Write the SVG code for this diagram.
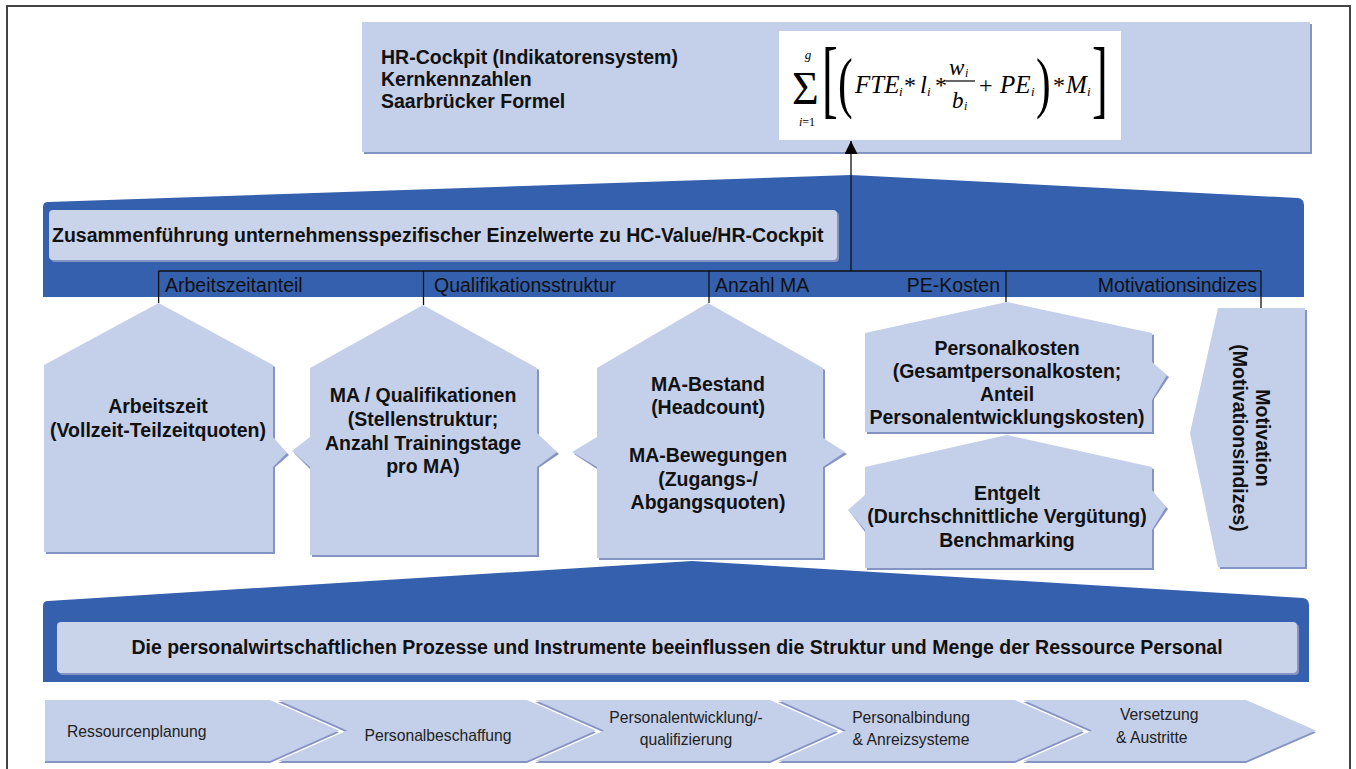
<svg xmlns="http://www.w3.org/2000/svg" width="1356" height="769" viewBox="0 0 1356 769">
<defs>
<style>
.lb{fill:#c4cfe9}
.sh{fill:#8593c2}
.band{fill:#3560ae}
.inner{fill:#c9d3ea}
.t{font-family:"Liberation Sans",Arial,sans-serif;font-size:19.5px;fill:#111}
.b{font-weight:bold}
.c{text-anchor:middle}
.e{text-anchor:end}
.ch{font-family:"Liberation Sans",Arial,sans-serif;font-size:15.7px;fill:#222}
.m{font-family:"Liberation Serif","Times New Roman",serif;fill:#000}
.mi{font-style:italic}
.conn{stroke:#111;stroke-width:1.3;fill:none}
</style>
<marker id="ah" markerUnits="userSpaceOnUse" markerWidth="14" markerHeight="14" refX="13" refY="6.5" orient="auto">
<path d="M0,0 L13,6.5 L0,13 z" fill="#000"/>
</marker>
</defs>
<rect x="0" y="0" width="1356" height="769" fill="#fff"/>
<path d="M7,769 V6 H1350 V769" fill="none" stroke="#444" stroke-width="2"/>

<g id="hr-cockpit">
<rect x="364" y="24" width="948" height="130" class="sh"/>
<rect x="362" y="22" width="948" height="130" class="lb"/>
<text class="t b" x="381" y="64">HR-Cockpit (Indikatorensystem)</text>
<text class="t b" x="381" y="86">Kernkennzahlen</text>
<text class="t b" x="381" y="108">Saarbrücker Formel</text>
<rect x="779" y="31" width="342" height="109" fill="#fff"/>
<text class="m" x="792" y="104" font-size="46">Σ</text>
<text class="m mi c" x="808" y="59" font-size="13">g</text>
<text class="m c" x="807" y="126" font-size="12"><tspan font-style="italic">i</tspan>=1</text>
<text class="m" font-size="86" transform="translate(822,107) scale(0.55,1)">[</text>
<text class="m" font-size="68" transform="translate(838,105) scale(0.65,1)">(</text>
<text class="m mi" x="855" y="93" font-size="25">FTE</text>
<text class="m mi" x="899" y="96" font-size="13">i</text>
<text class="m" x="904" y="93" font-size="24">*</text>
<text class="m mi" x="920" y="93" font-size="25">l</text>
<text class="m mi" x="927" y="96" font-size="13">i</text>
<text class="m" x="935" y="93" font-size="24">*</text>
<text class="m mi" x="949" y="75" font-size="23">w</text>
<text class="m mi" x="965" y="77" font-size="12">i</text>
<line x1="946" y1="81" x2="975" y2="81" stroke="#000" stroke-width="1.2"/>
<text class="m mi" x="952" y="108" font-size="23">b</text>
<text class="m mi" x="964" y="110" font-size="12">i</text>
<text class="m" x="979" y="93" font-size="24">+</text>
<text class="m mi" x="1000" y="93" font-size="25">PE</text>
<text class="m mi" x="1031" y="96" font-size="13">i</text>
<text class="m" font-size="68" transform="translate(1036,105) scale(0.65,1)">)</text>
<text class="m" x="1053" y="93" font-size="24">*</text>
<text class="m mi" x="1066" y="93" font-size="25">M</text>
<text class="m mi" x="1087" y="96" font-size="13">i</text>
<text class="m" font-size="86" transform="translate(1092,107) scale(0.55,1)">]</text>
</g>

<g id="band-top">
<path class="band" d="M43,297 L43,207 Q43,202 48,202 L851,175 L1298,198 Q1304,199 1304,205 L1304,297 Z"/>
<rect x="51" y="212" width="788" height="50" rx="4" class="sh"/>
<rect x="49" y="210" width="788" height="50" rx="4" class="inner"/>
<text class="t b" x="52" y="242">Zusammenführung unternehmensspezifischer Einzelwerte zu HC-Value/HR-Cockpit</text>
</g>

<g id="labels">
<text class="t" x="165" y="292">Arbeitszeitanteil</text>
<text class="t" x="434" y="292">Qualifikationsstruktur</text>
<text class="t" x="715" y="292">Anzahl MA</text>
<text class="t e" x="1000" y="292">PE-Kosten</text>
<text class="t e" x="1257" y="292">Motivationsindizes</text>
</g>

<g id="arbeitszeit">
<polygon class="sh" points="46,367 160.6,305 275,367 275,554 46,554"/>
<polygon class="lb" points="44,365 158.6,303 273,365 273,552 44,552"/>
<polygon class="sh" points="273,439 289,455 273,469"/>
<polygon class="lb" points="273,437 287,453 273,467"/>
<text class="t b c" x="158" y="413">Arbeitszeit</text>
<text class="t b c" x="158" y="437">(Vollzeit-Teilzeitquoten)</text>
</g>

<g id="qualifikationen">
<polygon class="sh" points="312,370 425,307 539,370 539,557 312,557"/>
<polygon class="lb" points="310,368 423,305 537,368 537,555 310,555"/>
<polygon class="sh" points="310,439 294,453 310,469"/>
<polygon class="lb" points="310,437 292,451 310,467"/>
<polygon class="sh" points="537,435 559,454 537,469"/>
<polygon class="lb" points="537,433 557,452 537,467"/>
<text class="t b c" x="423" y="402">MA / Qualifikationen</text>
<text class="t b c" x="423" y="426">(Stellenstruktur;</text>
<text class="t b c" x="423" y="450">Anzahl Trainingstage</text>
<text class="t b c" x="423" y="473">pro MA)</text>
</g>

<g id="ma-bestand">
<polygon class="sh" points="599,370 710,305 825,370 825,560 599,560"/>
<polygon class="lb" points="597,368 708,303 823,368 823,558 597,558"/>
<polygon class="sh" points="597,439 574,454 597,469"/>
<polygon class="lb" points="597,437 572,452 597,467"/>
<polygon class="sh" points="823,440 847,454 823,469"/>
<polygon class="lb" points="823,438 845,452 823,467"/>
<text class="t b c" x="708" y="391">MA-Bestand</text>
<text class="t b c" x="708" y="414">(Headcount)</text>
<text class="t b c" x="708" y="462">MA-Bewegungen</text>
<text class="t b c" x="708" y="486">(Zugangs-/</text>
<text class="t b c" x="708" y="509">Abgangsquoten)</text>
</g>

<g id="personalkosten">
<polygon class="sh" points="867,335 1009,304 1154,335 1154,434 867,434"/>
<polygon class="lb" points="865,333 1007,302 1152,333 1152,432 865,432"/>
<polygon class="sh" points="1152,364 1169,377 1152,402"/>
<polygon class="lb" points="1152,362 1167,375 1152,400"/>
<text class="t b c" x="1007" y="355">Personalkosten</text>
<text class="t b c" x="1007" y="378">(Gesamtpersonalkosten;</text>
<text class="t b c" x="1007" y="401">Anteil</text>
<text class="t b c" x="1007" y="424">Personalentwicklungskosten)</text>
</g>

<g id="entgelt">
<polygon class="sh" points="867,469 1009,437 1154,469 1154,570 867,570"/>
<polygon class="lb" points="865,467 1007,435 1152,467 1152,568 865,568"/>
<polygon class="sh" points="865,497 850,512 865,532"/>
<polygon class="lb" points="865,495 848,510 865,530"/>
<polygon class="sh" points="1152,492 1168,509 1152,532"/>
<polygon class="lb" points="1152,490 1166,507 1152,530"/>
<text class="t b c" x="1007" y="500">Entgelt</text>
<text class="t b c" x="1007" y="523">(Durchschnittliche Vergütung)</text>
<text class="t b c" x="1007" y="547">Benchmarking</text>
</g>

<g id="motivation">
<polygon class="sh" points="1220,310 1307,310 1307,569 1220,569 1192,435"/>
<polygon class="lb" points="1218,308 1305,308 1305,567 1218,567 1190,433"/>
<text class="t b c" transform="translate(1256,438) rotate(90)">Motivation</text>
<text class="t b c" transform="translate(1233,438) rotate(90)">(Motivationsindizes)</text>
</g>

<g id="band-bottom">
<path class="band" d="M43,682 L43,606 Q43,601 48,601 L692,561 L1303,598 Q1309,599 1309,605 L1309,682 Z"/>
<rect x="59" y="624" width="1240" height="51" rx="4" class="sh"/>
<rect x="57" y="622" width="1240" height="51" rx="4" class="inner"/>
<text class="t b c" x="677" y="654">Die personalwirtschaftlichen Prozesse und Instrumente beeinflussen die Struktur und Menge der Ressource Personal</text>
</g>

<g id="ressourcenplanung">
<polygon class="sh" points="45,702 270,702 339,732.5 270,763 45,763"/>
<polygon class="lb" points="45,700 270,700 339,730.5 270,761 45,761"/>
<text class="ch" x="67" y="737">Ressourcenplanung</text>
</g>
<g id="personalbeschaffung">
<polygon class="sh" points="278,702 527,702 596,732.5 527,763 278,763 347,732.5"/>
<polygon class="lb" points="278,700 527,700 596,730.5 527,761 278,761 347,730.5"/>
<text class="ch c" x="438" y="741">Personalbeschaffung</text>
</g>
<g id="personalentwicklung">
<polygon class="sh" points="535,702 770,702 838,732.5 770,763 535,763 604,732.5"/>
<polygon class="lb" points="535,700 770,700 838,730.5 770,761 535,761 604,730.5"/>
<text class="ch c" x="686" y="723">Personalentwicklung/-</text>
<text class="ch c" x="686" y="745">qualifizierung</text>
</g>
<g id="personalbindung">
<polygon class="sh" points="778,702 1015,702 1084,732.5 1015,763 778,763 846,732.5"/>
<polygon class="lb" points="778,700 1015,700 1084,730.5 1015,761 778,761 846,730.5"/>
<text class="ch c" x="911" y="723">Personalbindung</text>
<text class="ch c" x="911" y="745">&amp; Anreizsysteme</text>
</g>
<g id="versetzung">
<polygon class="sh" points="1023,702 1246,702 1316,732.5 1246,763 1023,763 1092,732.5"/>
<polygon class="lb" points="1023,700 1246,700 1316,730.5 1246,761 1023,761 1092,730.5"/>
<text class="ch" x="1120" y="720">Versetzung</text>
<text class="ch" x="1116" y="743">&amp; Austritte</text>
</g>

<g id="connectors">
<line class="conn" x1="158.6" y1="271" x2="1261" y2="271"/>
<line class="conn" x1="158.6" y1="271" x2="158.6" y2="303"/>
<line class="conn" x1="423.5" y1="271" x2="423.5" y2="305"/>
<line class="conn" x1="709" y1="271" x2="709" y2="303"/>
<line class="conn" x1="1006" y1="271" x2="1006" y2="302"/>
<line class="conn" x1="1261" y1="271" x2="1261" y2="308"/>
<line class="conn" x1="851" y1="271" x2="851" y2="141" marker-end="url(#ah)"/>
</g>
</svg>
